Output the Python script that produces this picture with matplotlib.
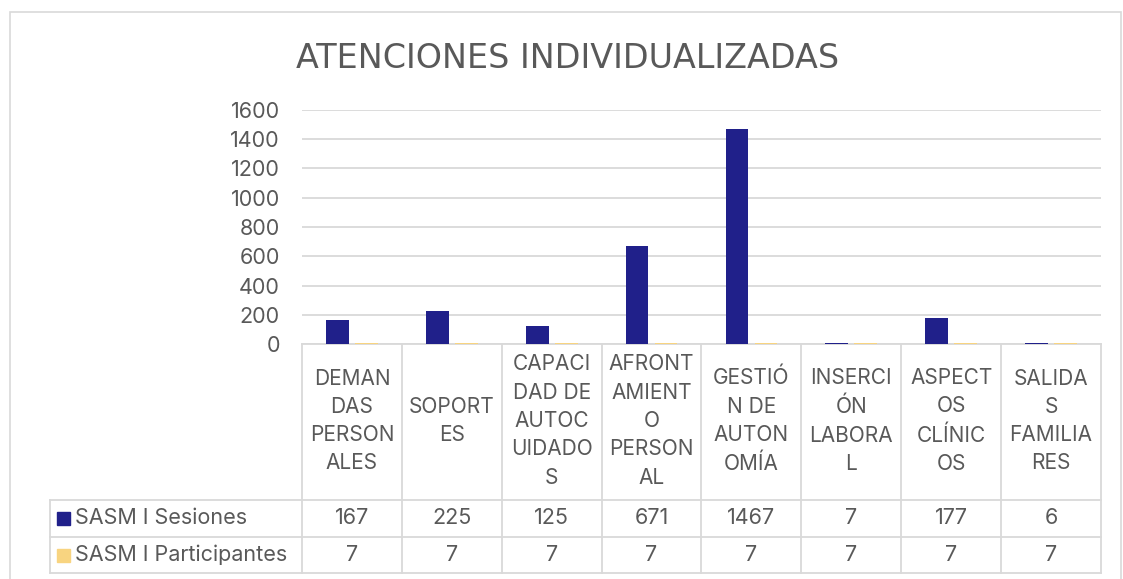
import matplotlib.pyplot as plt
from matplotlib.patches import Rectangle
from matplotlib.transforms import blended_transform_factory

categories = ["DEMAN\nDAS\nPERSON\nALES", "SOPORT\nES", "CAPACI\nDAD DE\nAUTOC\nUIDADO\nS",
              "AFRONT\nAMIENT\nO\nPERSON\nAL", "GESTIÓ\nN DE\nAUTON\nOMÍA", "INSERCI\nÓN\nLABORA\nL",
              "ASPECT\nOS\nCLÍNIC\nOS", "SALIDA\nS\nFAMILIA\nRES"]
series_names = ["SASM I Sesiones", "SASM I Participantes"]
sesiones = [167, 225, 125, 671, 1467, 7, 177, 6]
participantes = [7, 7, 7, 7, 7, 7, 7, 7]
y_ticks = [0, 200, 400, 600, 800, 1000, 1200, 1400, 1600]

BLUE = '#20208A'
YELLOW = '#F8D480'
TEXT = '#595959'
GRID = '#D9D9D9'

plt.rcParams['font.family'] = ['Inter', 'DejaVu Sans']

W, H = 1123, 579
fig = plt.figure(figsize=(W / 100, H / 100), dpi=100)

# plot area in pixels: x 302..1101, y 110..344
px0, px1, py0, py1 = 302, 1101, 110, 344
ax = fig.add_axes([px0 / W, 1 - py1 / H, (px1 - px0) / W, (py1 - py0) / H])

# outer chart frame
fig.patches.append(Rectangle((10 / W, -0.05), (1121 - 10) / W, 1.05 - 12 / H,
                             transform=fig.transFigure, fill=False,
                             edgecolor=GRID, linewidth=1.2))

n = len(categories)
x = list(range(n))
bw = 0.227
ax.bar([i - 0.145 for i in x], sesiones, width=bw, color=BLUE, zorder=3)
ax.bar([i + 0.145 for i in x], participantes, width=bw, color=YELLOW, zorder=3)

ax.set_xlim(-0.5, n - 0.5)
ax.set_ylim(0, 1600)
ax.set_yticks(y_ticks)
ax.set_yticklabels([str(v) for v in y_ticks])
ax.tick_params(axis='y', length=0, labelsize=15.5, labelcolor=TEXT, pad=16)
ax.set_xticks([])
for side in ['top', 'right', 'left', 'bottom']:
    ax.spines[side].set_visible(False)
ax.grid(axis='y', color=GRID, linewidth=1.3, zorder=0)

fig.text(568 / W, 1 - 58 / H, "ATENCIONES INDIVIDUALIZADAS", ha='center', va='center',
         fontsize=24, color=TEXT, family=['Liberation Sans Narrow', 'DejaVu Sans'])

# data table under the axes
tr = blended_transform_factory(ax.transData, ax.transAxes)
ah = py1 - py0
def yf(py):
    return -(py - py1) / ah

x_left = -0.5 - (px0 - 50) / ((px1 - px0) / n)
rows = [344, 500, 537, 573]
lk = dict(color=GRID, linewidth=1.3, transform=tr, clip_on=False)

# horizontal lines
ax.plot([-0.5, n - 0.5], [yf(344)] * 2, **lk)
for r in rows[1:]:
    ax.plot([x_left, n - 0.5], [yf(r)] * 2, **lk)
# vertical lines
for i in range(n + 1):
    ax.plot([i - 0.5] * 2, [yf(344), yf(573)], **lk)
ax.plot([x_left] * 2, [yf(500), yf(573)], **lk)

for i, c in enumerate(categories):
    ax.text(i, yf(421), c, transform=tr, ha='center', va='center', fontsize=15,
            color=TEXT, linespacing=1.52, clip_on=False)
    ax.text(i, yf(518.5), str(sesiones[i]), transform=tr, ha='center', va='center',
            fontsize=15.5, color=TEXT, clip_on=False)
    ax.text(i, yf(555), str(participantes[i]), transform=tr, ha='center', va='center',
            fontsize=15.5, color=TEXT, clip_on=False)

for name, col, (ra, rb) in zip(series_names, [BLUE, YELLOW], [(500, 537), (537, 573)]):
    yc = (ra + rb) / 2
    fig.patches.append(Rectangle((57 / W, 1 - (yc + 6.5) / H), 13 / W, 13 / H,
                                 transform=fig.transFigure, color=col))
    fig.text(75 / W, 1 - yc / H, name, ha='left', va='center', fontsize=15.5, color=TEXT)

fig.savefig('out.png', dpi=100)
